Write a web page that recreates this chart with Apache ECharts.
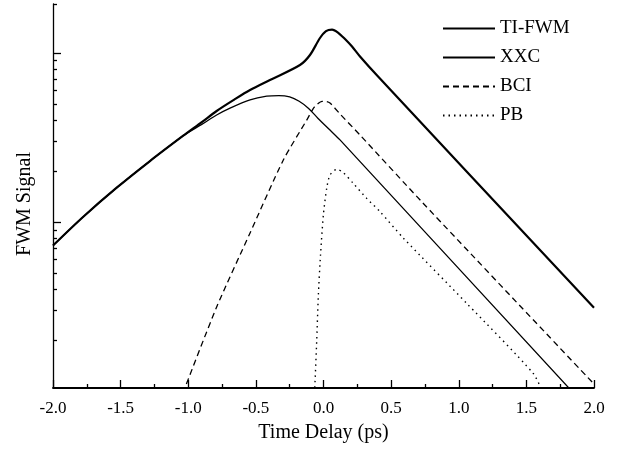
<!DOCTYPE html>
<html><head><meta charset="utf-8">
<script src="https://cdn.jsdelivr.net/npm/echarts@6/dist/echarts.min.js"></script>
<style>html,body{margin:0;padding:0;background:#fff}#c{width:628px;height:449px}</style>
</head><body><div id="c"></div>
<script>
// Tick values
const xTickLabels = [-2.0, -1.5, -1.0, -0.5, 0.0, 0.5, 1.0, 1.5, 2.0];
const yMajorTicks = [1, 10];
const yMinorTicks = [0.2, 0.3, 0.4, 0.5, 0.6, 0.7, 0.8, 0.9, 2, 3, 4, 5, 6, 7, 8, 9, 19.5];

// TI-FWM
const tiX = [-2.0, -1.776, -1.529, -1.283, -1.037, -0.900, -0.790, -0.660, -0.543, -0.396, -0.174, -0.100, -0.026, 0.0185, 0.063, 0.107, 0.159, 0.211, 0.270, 0.400, 2.0];
const tiY = [0.726, 1.075, 1.596, 2.296, 3.241, 3.90, 4.54, 5.30, 6.04, 6.92, 8.49, 9.73, 12.27, 13.49, 13.77, 13.22, 12.1, 10.92, 9.53, 7.30, 0.311];

// XXC
const xxcX = [-2.0, -1.776, -1.529, -1.283, -1.037, -0.900, -0.790, -0.691, -0.543, -0.420, -0.330, -0.250, -0.180, -0.110, -0.040, 0.048, 0.122, 1.85];
const xxcY = [0.726, 1.075, 1.596, 2.296, 3.241, 3.78, 4.30, 4.72, 5.28, 5.55, 5.60, 5.50, 5.18, 4.70, 4.10, 3.50, 3.06, 0.097];

// BCI
const bciX = [-1.04, -0.790, -0.543, -0.297, -0.124, -0.075, -0.048, -0.011, 0.018, 0.048, 0.122, 0.270, 0.726, 2.0];
const bciY = [0.097, 0.314, 0.861, 2.327, 4.01, 4.71, 4.96, 5.17, 5.17, 5.06, 4.36, 3.27, 1.319, 0.110];

// PB
const pbX = [-0.067, -0.063, -0.050, -0.038, -0.022, -0.001, 0.024, 0.048, 0.098, 0.146, 0.218, 0.319, 0.418, 0.590, 1.059, 1.551, 1.623];
const pbY = [0.097, 0.1115, 0.200, 0.370, 0.638, 1.10, 1.589, 1.897, 2.05, 1.963, 1.70, 1.381, 1.151, 0.804, 0.330, 0.127, 0.097];

const pairs = (xs, ys) => xs.map((x, i) => [x, ys[i]]);
const FONT = "'Liberation Serif', 'Times New Roman', serif";
const yMin = 0.1042, yMax = 19.5;

const chart = echarts.init(document.getElementById('c'), null, {renderer: 'canvas'});
const baseY = {
  type: 'log', logBase: 10, min: yMin, max: yMax, position: 'left',
  axisLabel: {show: false}, splitLine: {show: false}, minorTick: {show: false}
};
chart.setOption({
  animation: false,
  backgroundColor: '#fff',
  grid: {left: 53, right: 34, top: 4, bottom: 61, containLabel: false},
  legend: {
    show: true, orient: 'vertical', left: 442, top: 19, padding: 0,
    itemWidth: 52, itemHeight: 14, itemGap: 10,
    itemStyle: {opacity: 0},
    textStyle: {fontFamily: FONT, fontSize: 19, color: '#000'},
    data: ['TI-FWM', 'XXC', 'BCI', 'PB']
  },
  xAxis: {
    type: 'value', min: -2, max: 2, interval: 0.5,
    name: 'Time Delay (ps)', nameLocation: 'middle', nameGap: 35,
    nameTextStyle: {fontFamily: FONT, fontSize: 20, color: '#000'},
    axisLine: {show: true, onZero: false, lineStyle: {color: '#000', width: 1.8}},
    axisTick: {show: true, inside: true, length: 8, lineStyle: {color: '#000', width: 1.3}},
    minorTick: {show: true, splitNumber: 2, length: 4, lineStyle: {color: '#000', width: 1.3}},
    axisLabel: {
      fontFamily: FONT, fontSize: 17, color: '#000', margin: 12,
      customValues: xTickLabels,
      formatter: v => v.toFixed(1)
    },
    splitLine: {show: false}
  },
  yAxis: [
    Object.assign({}, baseY, {
      name: 'FWM Signal', nameLocation: 'middle', nameGap: 18, nameRotate: 90,
      nameTextStyle: {fontFamily: FONT, fontSize: 20, color: '#000', padding: [0, 0, 0, -16]},
      axisLine: {show: true, onZero: false, lineStyle: {color: '#000', width: 1.3}},
      axisTick: {show: true, inside: true, length: 8, customValues: yMajorTicks, lineStyle: {color: '#000', width: 1.3}}
    }),
    Object.assign({}, baseY, {
      axisLine: {show: false, onZero: false},
      axisTick: {show: true, inside: true, length: 4, customValues: yMinorTicks, lineStyle: {color: '#000', width: 1.3}}
    })
  ],
  series: [
    {name: 'TI-FWM', type: 'line', data: pairs(tiX, tiY), symbol: 'none', smooth: 0.3, clip: true,
     lineStyle: {color: '#000', width: 2.2}, itemStyle: {color: '#000'}},
    {name: 'XXC', type: 'line', data: pairs(xxcX, xxcY), symbol: 'none', smooth: 0.3, clip: true,
     lineStyle: {color: '#000', width: 1.3}, itemStyle: {color: '#000'}},
    {name: 'BCI', type: 'line', data: pairs(bciX, bciY), symbol: 'none', smooth: 0.25, clip: true,
     lineStyle: {color: '#000', width: 1.3, type: [6, 4]}, itemStyle: {color: '#000'}},
    {name: 'PB', type: 'line', data: pairs(pbX, pbY), symbol: 'none', smooth: 0.25, clip: true,
     lineStyle: {color: '#000', width: 1.4, type: [1.5, 4]}, itemStyle: {color: '#000'}}
  ]
});
</script>
</body></html>
